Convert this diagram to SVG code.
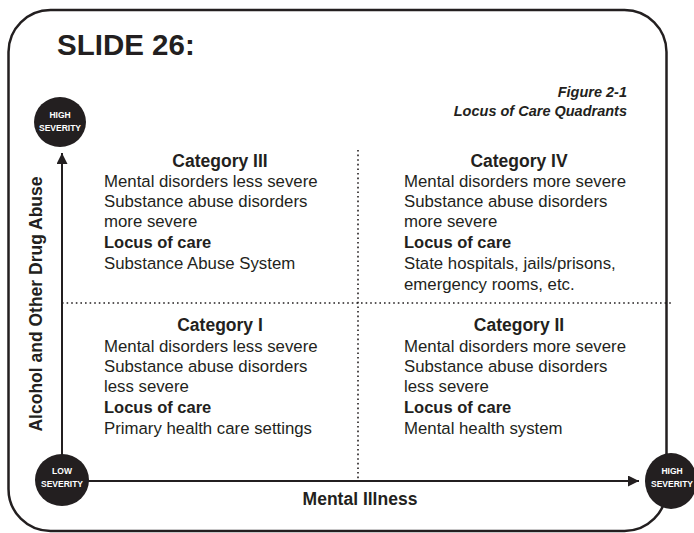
<svg xmlns="http://www.w3.org/2000/svg" width="694" height="533" viewBox="0 0 694 533">
<defs>
<style>
text{font-family:"Liberation Sans",Arial,sans-serif;fill:#231f20}
.body{font-size:16.8px}
.head{font-size:16.5px;font-weight:bold}
.cat{font-size:17.5px;font-weight:bold;text-anchor:middle}
.ctr{text-anchor:middle}
.sev{font-size:8.5px;font-weight:bold;fill:#fff;text-anchor:middle}
.dot{stroke:#231f20;stroke-width:1.6;stroke-dasharray:1.6 3;fill:none}
.axis{stroke:#231f20;stroke-width:2;fill:none}
.badge{fill:#231f20}
</style>
<marker id="ah" viewBox="0 0 10 10" refX="10" refY="5" markerWidth="7.5" markerHeight="5.5" orient="auto" markerUnits="strokeWidth">
<path d="M0,0 L10,5 L0,10 z" fill="#231f20"/>
</marker>
</defs>
<rect width="694" height="533" fill="#fff"/>
<rect x="8.5" y="10" width="658" height="521" rx="42" ry="42" fill="none" stroke="#231f20" stroke-width="2.5"/>
<text x="57" y="55" font-size="29.5" font-weight="bold">SLIDE 26:</text>
<g id="caption" font-style="italic" font-weight="bold" font-size="14.5" text-anchor="end">
<text x="627" y="97">Figure 2-1</text>
<text x="627" y="116">Locus of Care Quadrants</text>
</g>
<g id="connectors">
<line class="dot" x1="358" y1="150" x2="358" y2="480"/>
<line class="dot" x1="62" y1="303" x2="672" y2="303"/>
<line class="axis" x1="62" y1="458" x2="62" y2="153" marker-end="url(#ah)"/>
<line class="axis" x1="88" y1="481" x2="639" y2="481" marker-end="url(#ah)"/>
</g>
<g id="y-axis-label">
<text transform="translate(42,304) rotate(-90)" class="ctr" font-size="17.5" font-weight="bold">Alcohol and Other Drug Abuse</text>
</g>
<g id="x-axis-label">
<text x="360" y="505" class="ctr" font-size="17.5" font-weight="bold">Mental Illness</text>
</g>
<g id="high-severity-top">
<ellipse class="badge" cx="60" cy="122" rx="26" ry="25"/>
<text class="sev" x="60" y="118">HIGH</text>
<text class="sev" x="60" y="131">SEVERITY</text>
</g>
<g id="low-severity">
<ellipse class="badge" cx="62" cy="480" rx="27" ry="26"/>
<text class="sev" x="62" y="474">LOW</text>
<text class="sev" x="62" y="487">SEVERITY</text>
</g>
<g id="high-severity-right">
<ellipse class="badge" cx="671" cy="481" rx="26" ry="28"/>
<text class="sev" x="672" y="474">HIGH</text>
<text class="sev" x="672" y="487">SEVERITY</text>
</g>
<g id="category-3">
<text class="cat" x="220" y="166.5">Category III</text>
<text class="body" x="104" y="186.7">Mental disorders less severe</text>
<text class="body" x="104" y="207">Substance abuse disorders</text>
<text class="body" x="104" y="227.3">more severe</text>
<text class="head" x="104" y="248">Locus of care</text>
<text class="body" x="104" y="269">Substance Abuse System</text>
</g>
<g id="category-4">
<text class="cat" x="519" y="166.5">Category IV</text>
<text class="body" x="404" y="186.7">Mental disorders more severe</text>
<text class="body" x="404" y="207">Substance abuse disorders</text>
<text class="body" x="404" y="227.3">more severe</text>
<text class="head" x="404" y="248">Locus of care</text>
<text class="body" x="404" y="269">State hospitals, jails/prisons,</text>
<text class="body" x="404" y="289.5">emergency rooms, etc.</text>
</g>
<g id="category-1">
<text class="cat" x="220" y="330.7">Category I</text>
<text class="body" x="104" y="351.5">Mental disorders less severe</text>
<text class="body" x="104" y="371.7">Substance abuse disorders</text>
<text class="body" x="104" y="392">less severe</text>
<text class="head" x="104" y="412.7">Locus of care</text>
<text class="body" x="104" y="433.5">Primary health care settings</text>
</g>
<g id="category-2">
<text class="cat" x="519" y="330.7">Category II</text>
<text class="body" x="404" y="351.5">Mental disorders more severe</text>
<text class="body" x="404" y="371.7">Substance abuse disorders</text>
<text class="body" x="404" y="392">less severe</text>
<text class="head" x="404" y="412.7">Locus of care</text>
<text class="body" x="404" y="433.5">Mental health system</text>
</g>
</svg>
